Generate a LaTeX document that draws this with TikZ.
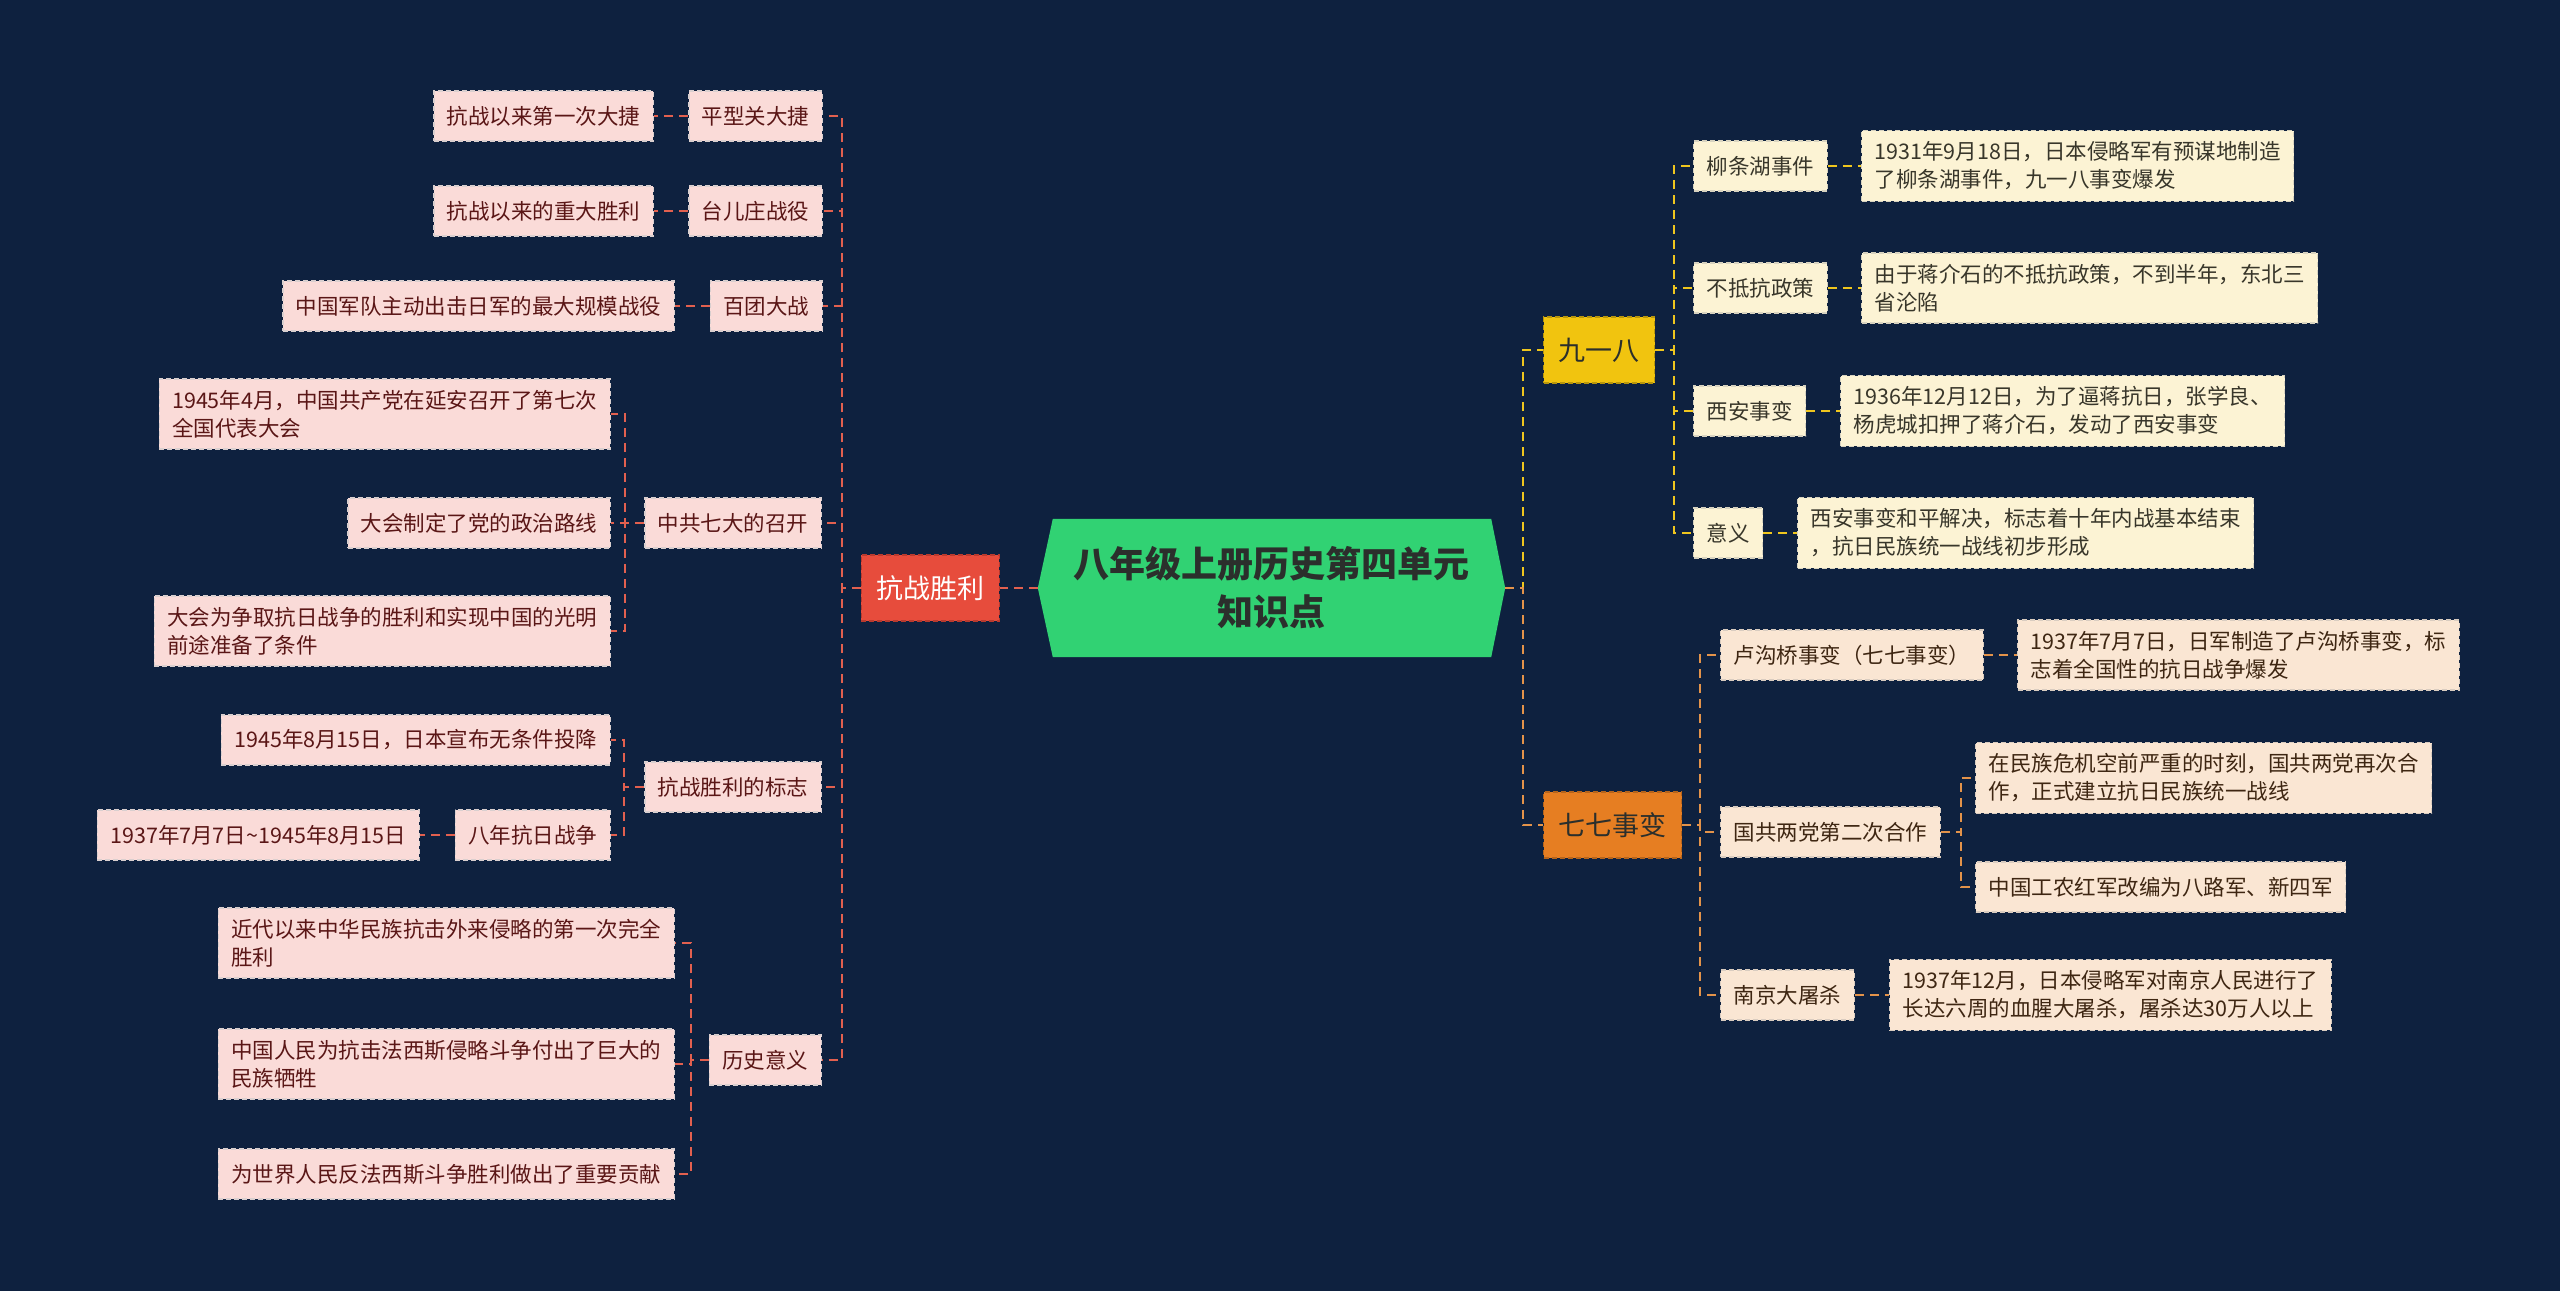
\documentclass[tikz,border=0pt]{standalone}
\usepackage{fontspec}
\setmainfont{Noto Sans CJK SC}
\usetikzlibrary{calc}
\definecolor{bg}{HTML}{0E213F}
\definecolor{ctrF}{HTML}{31D273}
\definecolor{ctrT}{HTML}{2B2F2C}
\definecolor{redM}{HTML}{E74C3C}
\definecolor{redB}{HTML}{B93A2E}
\definecolor{redC}{HTML}{E2604F}
\definecolor{pinkF}{HTML}{FADBD8}
\definecolor{pinkB}{HTML}{D9CFCF}
\definecolor{pinkT}{HTML}{5A1616}
\definecolor{yelM}{HTML}{F1C40F}
\definecolor{yelB}{HTML}{B8960C}
\definecolor{yelC}{HTML}{EFC61E}
\definecolor{yelF}{HTML}{FCF3D4}
\definecolor{yelLB}{HTML}{D8D3C0}
\definecolor{yelT}{HTML}{38362A}
\definecolor{oraM}{HTML}{E67E22}
\definecolor{oraB}{HTML}{B5641C}
\definecolor{oraC}{HTML}{E3934A}
\definecolor{oraF}{HTML}{FAE6D3}
\definecolor{oraLB}{HTML}{D9CCC0}
\definecolor{oraT}{HTML}{3E2612}
\begin{document}
\begin{tikzpicture}[x=1pt,y=-1pt,
  leaf/.style={font=\fontsize{21.5}{28}\selectfont, inner xsep=13pt, inner ysep=11pt,
    minimum height=50pt, align=left, line width=1.3pt, dash pattern=on 5pt off 3pt},
  lleaf/.style={leaf, fill=pinkF, draw=pinkB, text=pinkT, anchor=east},
  yleaf/.style={leaf, fill=yelF, draw=yelLB, text=yelT, anchor=west},
  oleaf/.style={leaf, fill=oraF, draw=oraLB, text=oraT, anchor=west},
  mainbox/.style={font=\fontsize{27}{32}\selectfont, inner xsep=15pt, minimum height=66pt,
    line width=1.3pt, dash pattern=on 5pt off 3pt},
  conn/.style={line width=2.2pt, dash pattern=on 9pt off 6pt},
  lc/.style={conn, draw=redC},
  yc/.style={conn, draw=yelC},
  oc/.style={conn, draw=oraC}
]
\fill[bg] (0,0) rectangle (2560,1291);
\useasboundingbox (0,0) rectangle (2560,1291);

% centre
\node[minimum width=467pt, minimum height=138pt, inner sep=0pt] (ctr) at (1271.5,588) {};
\fill[ctrF] (ctr.west) -- ([xshift=15pt]ctr.north west) -- ([xshift=-14pt]ctr.north east)
  -- (ctr.east) -- ([xshift=-14pt]ctr.south east) -- ([xshift=15pt]ctr.south west) -- cycle;
\node[font=\fontsize{36}{48}\selectfont\bfseries, text=ctrT, align=center] (ctrtext) at (ctr) {八年级上册历史第四单元\\知识点};

% left main
\node[mainbox, fill=redM, draw=redB, text=white, anchor=east] (kz) at (1000,588) {抗战胜利};

\node[lleaf] (pxg) at (823,116) {平型关大捷};
\node[lleaf] (a1) at (654,116) {抗战以来第一次大捷};
\node[lleaf] (tez) at (823,211) {台儿庄战役};
\node[lleaf] (a3) at (654,211) {抗战以来的重大胜利};
\node[lleaf] (btd) at (823,306) {百团大战};
\node[lleaf] (a5) at (675,306) {中国军队主动出击日军的最大规模战役};
\node[lleaf] (zgqd) at (822,523) {中共七大的召开};
\node[lleaf] (q1) at (611,414) {1945年4月，中国共产党在延安召开了第七次\\全国代表大会};
\node[lleaf] (q2) at (611,523) {大会制定了党的政治路线};
\node[lleaf] (q3) at (611,631) {大会为争取抗日战争的胜利和实现中国的光明\\前途准备了条件};
\node[lleaf] (bz) at (822,787) {抗战胜利的标志};
\node[lleaf] (b1) at (611,740) {1945年8月15日，日本宣布无条件投降};
\node[lleaf] (b2) at (611,835) {八年抗日战争};
\node[lleaf] (b3) at (420,835) {1937年7月7日\textasciitilde 1945年8月15日};
\node[lleaf] (lsyy) at (822,1060) {历史意义};
\node[lleaf] (s1) at (675,943) {近代以来中华民族抗击外来侵略的第一次完全\\胜利};
\node[lleaf] (s2) at (675,1064) {中国人民为抗击法西斯侵略斗争付出了巨大的\\民族牺牲};
\node[lleaf] (s3) at (675,1174) {为世界人民反法西斯斗争胜利做出了重要贡献};

% right main
\node[mainbox, fill=yelM, draw=yelB, text=ctrT, anchor=west] (jyb) at (1543,350) {九一八};
\node[mainbox, fill=oraM, draw=oraB, text=ctrT, anchor=west] (qq) at (1543,825) {七七事变};

\node[yleaf] (lth) at (1693,166) {柳条湖事件};
\node[yleaf] (r1) at (1861,166) {1931年9月18日，日本侵略军有预谋地制造\\了柳条湖事件，九一八事变爆发};
\node[yleaf] (bdk) at (1693,288) {不抵抗政策};
\node[yleaf] (r2) at (1861,288) {由于蒋介石的不抵抗政策，不到半年，东北三\\省沦陷};
\node[yleaf] (xa) at (1693,411) {西安事变};
\node[yleaf] (r3) at (1840,411) {1936年12月12日，为了逼蒋抗日，张学良、\\杨虎城扣押了蒋介石，发动了西安事变};
\node[yleaf] (yy) at (1693,533) {意义};
\node[yleaf] (r4) at (1797,533) {西安事变和平解决，标志着十年内战基本结束\\，抗日民族统一战线初步形成};

\node[oleaf] (lgq) at (1720,655) {卢沟桥事变（七七事变）};
\node[oleaf] (o1) at (2017,655) {1937年7月7日，日军制造了卢沟桥事变，标\\志着全国性的抗日战争爆发};
\node[oleaf] (gg) at (1720,832) {国共两党第二次合作};
\node[oleaf] (o2) at (1975,778) {在民族危机空前严重的时刻，国共两党再次合\\作，正式建立抗日民族统一战线};
\node[oleaf] (o3) at (1975,887) {中国工农红军改编为八路军、新四军};
\node[oleaf] (nj) at (1720,995) {南京大屠杀};
\node[oleaf] (o4) at (1889,995) {1937年12月，日本侵略军对南京人民进行了\\长达六周的血腥大屠杀，屠杀达30万人以上};

% connectors left
\begin{scope}[on background layer/.style={}]
\draw[lc] (ctr.west) -- (kz.east);
\foreach \c in {pxg,tez,btd,zgqd,bz,lsyy}
  \draw[lc] (kz.west) -- ++(-19pt,0) |- (\c.east);
\draw[lc] (pxg.west) -- (a1.east);
\draw[lc] (tez.west) -- (a3.east);
\draw[lc] (btd.west) -- (a5.east);
\foreach \c in {q1,q2,q3}
  \draw[lc] (zgqd.west) -- ++(-19pt,0) |- (\c.east);
\foreach \c in {b1,b2}
  \draw[lc] (bz.west) -- ++(-20pt,0) |- (\c.east);
\draw[lc] (b2.west) -- (b3.east);
\foreach \c in {s1,s2,s3}
  \draw[lc] (lsyy.west) -- ++(-18pt,0) |- (\c.east);

% connectors right
\draw[yc] (ctr.east) -- ++(18pt,0) |- (jyb.west);
\draw[oc] (ctr.east) -- ++(18pt,0) |- (qq.west);
\foreach \c in {lth,bdk,xa,yy}
  \draw[yc] (jyb.east) -- ++(19pt,0) |- (\c.west);
\draw[yc] (lth.east) -- (r1.west);
\draw[yc] (bdk.east) -- (r2.west);
\draw[yc] (xa.east) -- (r3.west);
\draw[yc] (yy.east) -- (r4.west);
\foreach \c in {lgq,gg,nj}
  \draw[oc] (qq.east) -- ++(18pt,0) |- (\c.west);
\draw[oc] (lgq.east) -- (o1.west);
\foreach \c in {o2,o3}
  \draw[oc] (gg.east) -- ++(20pt,0) |- (\c.west);
\draw[oc] (nj.east) -- (o4.west);
\end{scope}
\end{tikzpicture}
\end{document}
